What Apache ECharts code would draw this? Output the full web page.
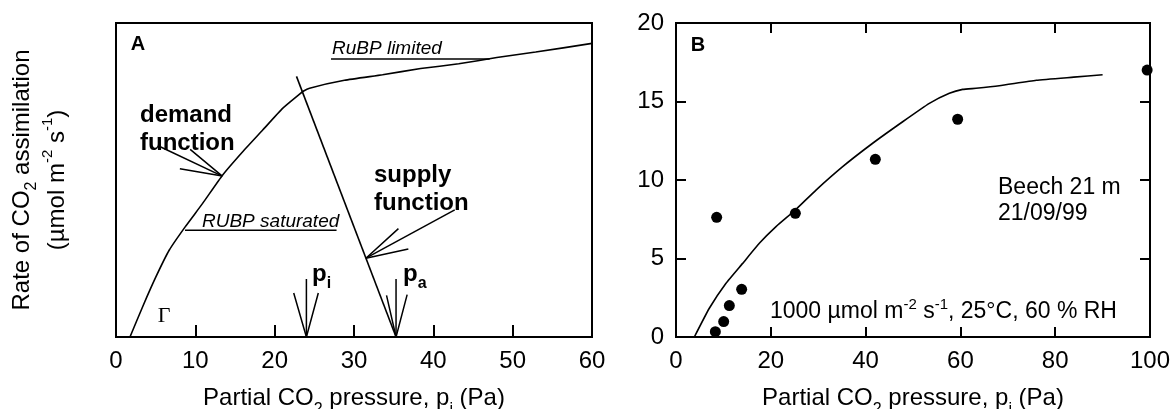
<!DOCTYPE html>
<html>
<head>
<meta charset="utf-8">
<script src="https://cdn.jsdelivr.net/npm/echarts@6/dist/echarts.min.js"></script>
<style>
  html, body { margin: 0; padding: 0; background: #fff; }
  #chart { width: 1174px; height: 409px; }
</style>
</head>
<body>
<div id="chart"></div>
<script>
// Panel A: demand function (assimilation vs pi, arbitrary y units 0-20)
const demandX = [1.76, 3.36, 5.04, 6.72, 8.74, 10.92, 13.45, 15.97, 18.49, 21.0, 23.1, 23.6, 24.4, 28.8, 33.6, 38.4, 43.2, 48.0, 52.9, 60];
const demandY = [0, 1.93, 3.84, 5.54, 7.03, 8.51, 10.32, 11.8, 13.18, 14.56, 15.45, 15.65, 15.85, 16.35, 16.7, 17.1, 17.4, 17.8, 18.15, 18.7];
// Panel A: supply function
const supplyX = [22.75, 35.3];
const supplyY = [16.6, 0];
// Panel A: arrows and underlines (data units)
const annotLinesA = [
  [[5.64, 12.1], [13.4, 10.25]],
  [[9.35, 11.95], [13.4, 10.25], [8.05, 10.72]],
  [[42.7, 8.1], [31.5, 5.02]],
  [[35.6, 6.9], [31.5, 5.02], [36.85, 5.6]],
  [[24, 3.7], [24, 0]],
  [[22.4, 2.8], [24, 0], [25.5, 2.8]],
  [[35.3, 3.7], [35.3, 0]],
  [[34.1, 2.65], [35.3, 0], [36.7, 2.7]],
  [[27.1, 17.7], [47.1, 17.7]],
  [[8.7, 6.8], [27.8, 6.8]]
];
const xTicksA = [0, 10, 20, 30, 40, 50, 60];

// Panel B: model curve and measured points (Beech 21 m, 21/09/99)
const modelX = [3.87, 7.03, 10.55, 14.06, 17.58, 21.1, 25.18, 29.54, 35.16, 41.49, 47.82, 53.45, 57.67, 60.48, 63.3, 68.2, 76.0, 83.9, 90.0];
const modelY = [0, 1.83, 3.42, 4.69, 5.97, 7.03, 8.09, 9.36, 10.85, 12.34, 13.71, 14.88, 15.52, 15.77, 15.84, 16.0, 16.35, 16.55, 16.7];
const measX = [8.58, 8.3, 10.06, 11.25, 13.85, 25.18, 42.05, 59.42, 99.4];
const measY = [7.62, 0.34, 0.98, 2.0, 3.04, 7.88, 11.32, 13.87, 17.0];
const xTicksB = [0, 20, 40, 60, 80, 100];
const yTicksB = [0, 5, 10, 15, 20];

const FONT = "'Liberation Sans', Arial, sans-serif";
const BLACK = "#000";

function zip(xs, ys) {
  return xs.map((x, i) => [x, ys[i]]);
}

const richText = {
  sub: { fontSize: 16, fontFamily: FONT, lineHeight: 16, verticalAlign: "bottom", fill: BLACK, color: BLACK },
  sup: { fontSize: 15, fontFamily: FONT, lineHeight: 26, verticalAlign: "top", fill: BLACK, color: BLACK },
  bsub: { fontSize: 16, fontFamily: FONT, fontWeight: "bold", lineHeight: 16, verticalAlign: "bottom", fill: BLACK }
};

function valueAxis(grid, ticks, opts) {
  return Object.assign({
    type: "value",
    gridIndex: grid,
    min: ticks[0],
    max: ticks[ticks.length - 1],
    interval: ticks[1] - ticks[0],
    splitLine: { show: false },
    axisLine: { show: true, onZero: false, lineStyle: { color: BLACK, width: 2 } },
    axisTick: { show: true, inside: true, length: 10, lineStyle: { color: BLACK, width: 2 } },
    axisLabel: { show: true, color: BLACK, fontSize: 24, fontFamily: FONT, margin: 12 }
  }, opts);
}

const xTitle = {
  name: "Partial CO{sub|2} pressure, p{sub|i} (Pa)",
  nameLocation: "middle",
  nameGap: 40,
  nameTextStyle: { color: BLACK, fontSize: 24, fontFamily: FONT, lineHeight: 40, rich: richText }
};

// annotation line series for panel A
const annotSeries = annotLinesA.map((pts) => ({
  type: "line",
  xAxisIndex: 0,
  yAxisIndex: 0,
  data: pts,
  symbol: "none",
  silent: true,
  lineStyle: { color: BLACK, width: 1.5 }
}));

const option = {
  animation: false,
  backgroundColor: "#fff",
  grid: [
    { left: 116, right: 582, top: 23, bottom: 72, outerBoundsMode: "none", containLabel: false, show: true, borderColor: BLACK, borderWidth: 2 },
    { left: 676, right: 24, top: 23, bottom: 72, outerBoundsMode: "none", containLabel: false, show: true, borderColor: BLACK, borderWidth: 2 }
  ],
  xAxis: [
    valueAxis(0, xTicksA, Object.assign({
      axisTick: { show: true, inside: true, length: 12, lineStyle: { color: BLACK, width: 2 } }
    }, xTitle)),
    valueAxis(1, xTicksB, Object.assign({}, xTitle)),
    valueAxis(1, xTicksB, { position: "top", axisLabel: { show: false } })
  ],
  yAxis: [
    valueAxis(0, [0, 20], { axisTick: { show: false }, axisLabel: { show: false } }),
    valueAxis(1, yTicksB, {}),
    valueAxis(1, yTicksB, { position: "right", axisLabel: { show: false } })
  ],
  series: [
    {
      type: "line",
      xAxisIndex: 0,
      yAxisIndex: 0,
      data: zip(demandX, demandY),
      smooth: 0.15,
      symbol: "none",
      lineStyle: { color: BLACK, width: 1.6 }
    },
    {
      type: "line",
      xAxisIndex: 0,
      yAxisIndex: 0,
      data: zip(supplyX, supplyY),
      symbol: "none",
      lineStyle: { color: BLACK, width: 1.6 }
    },
    ...annotSeries,
    {
      type: "line",
      xAxisIndex: 1,
      yAxisIndex: 1,
      data: zip(modelX, modelY),
      smooth: 0.15,
      symbol: "none",
      lineStyle: { color: BLACK, width: 1.6 }
    },
    {
      type: "scatter",
      xAxisIndex: 1,
      yAxisIndex: 1,
      data: zip(measX, measY),
      symbol: "circle",
      symbolSize: 11,
      itemStyle: { color: BLACK, opacity: 1 }
    }
  ],
  graphic: [
    // y axis title (shared)
    {
      type: "text", x: 40, y: 180, rotation: Math.PI / 2,
      style: {
        text: "Rate of CO{sub|2} assimilation\n(µmol m{sup|-2} s{sup|-1})",
        fontSize: 24, fontFamily: FONT, lineHeight: 35, fill: BLACK,
        align: "center", verticalAlign: "middle", rich: richText
      }
    },
    // panel letters
    { type: "text", x: 138, y: 44, style: { text: "A", fontSize: 20, fontWeight: "bold", fontFamily: FONT, fill: BLACK, align: "center", verticalAlign: "middle" } },
    { type: "text", x: 698, y: 45, style: { text: "B", fontSize: 20, fontWeight: "bold", fontFamily: FONT, fill: BLACK, align: "center", verticalAlign: "middle" } },
    // panel A labels
    { type: "text", x: 332, y: 58, style: { text: "RuBP limited", fontSize: 19, fontStyle: "italic", fontFamily: FONT, fill: BLACK, align: "left", verticalAlign: "bottom" } },
    { type: "text", x: 202, y: 231, style: { text: "RUBP saturated", fontSize: 19, fontStyle: "italic", fontFamily: FONT, fill: BLACK, align: "left", verticalAlign: "bottom" } },
    { type: "text", x: 140, y: 101, style: { text: "demand\nfunction", fontSize: 24, lineHeight: 28, fontWeight: "bold", fontFamily: FONT, fill: BLACK, align: "left", verticalAlign: "top" } },
    { type: "text", x: 374, y: 161, style: { text: "supply\nfunction", fontSize: 24, lineHeight: 28, fontWeight: "bold", fontFamily: FONT, fill: BLACK, align: "left", verticalAlign: "top" } },
    { type: "text", x: 164, y: 316, style: { text: "Γ", fontSize: 22, fontFamily: "'Liberation Serif', 'Times New Roman', serif", fill: BLACK, align: "center", verticalAlign: "middle" } },
    { type: "text", x: 312, y: 274, style: { text: "p{bsub|i}", fontSize: 24, fontWeight: "bold", fontFamily: FONT, lineHeight: 36, fill: BLACK, align: "left", verticalAlign: "middle", rich: richText } },
    { type: "text", x: 403, y: 274, style: { text: "p{bsub|a}", fontSize: 24, fontWeight: "bold", fontFamily: FONT, lineHeight: 36, fill: BLACK, align: "left", verticalAlign: "middle", rich: richText } },
    // panel B labels
    { type: "text", x: 998, y: 201, style: { text: "Beech 21 m\n21/09/99", fontSize: 23, lineHeight: 26, fontFamily: FONT, fill: BLACK, align: "left", verticalAlign: "middle" } },
    { type: "text", x: 770, y: 312, style: { text: "1000 µmol m{sup|-2} s{sup|-1}, 25°C, 60 % RH", fontSize: 23, lineHeight: 30, fontFamily: FONT, fill: BLACK, align: "left", verticalAlign: "middle", rich: richText } }
  ]
};

const dom = document.getElementById("chart");
const myChart = echarts.init(dom, null, { renderer: "canvas" });
myChart.setOption(option);
</script>
</body>
</html>
